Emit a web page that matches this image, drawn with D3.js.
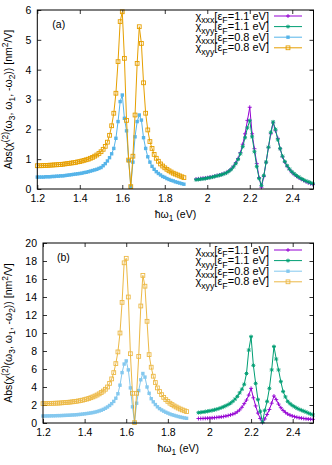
<!DOCTYPE html>
<html>
<head>
<meta charset="utf-8">
<script src="https://cdn.jsdelivr.net/npm/d3@7"></script>
<style>
body{margin:0;background:#fff;}
text{font-family:"Liberation Sans",Arial,sans-serif;fill:#000;}
</style>
</head>
<body>
<svg id="chart" width="332" height="465"></svg>
<script>
// photon energies (eV) of the two sweeps
var x08 = [1.20,1.21,1.22,1.23,1.24,1.25,1.26,1.27,1.28,1.29,
	1.30,1.31,1.32,1.33,1.34,1.35,1.36,1.37,1.38,1.39,
	1.40,1.41,1.42,1.43,1.44,1.45,1.46,1.47,1.48,1.49,
	1.50,1.51,1.52,1.53,1.54,1.55,1.56,1.57,1.58,1.59,
	1.60,1.61,1.62,1.63,1.64,1.65,1.66,1.67,1.68,1.69,
	1.70,1.71,1.72,1.73,1.74,1.75,1.76,1.77,1.78,1.79,
	1.80,1.81,1.82,1.83,1.84,1.85,1.86,1.87,1.88,1.89];
var x11 = [1.947,1.958,1.969,1.980,1.991,2.002,2.013,2.024,2.035,2.046,
	2.057,2.068,2.079,2.090,2.101,2.112,2.123,2.134,2.145,2.156,
	2.167,2.178,2.189,2.200,2.211,2.222,2.233,2.244,2.255,2.266,
	2.277,2.288,2.299,2.310,2.321,2.332,2.343,2.354,2.365,2.376,
	2.387,2.398,2.409,2.420,2.431,2.442,2.453,2.464,2.475,2.486,2.497];

// panel (a)
var aXxx11 = [0.33,0.34,0.35,0.36,0.37,0.38,0.40,0.41,0.43,0.45,
	0.47,0.49,0.52,0.55,0.60,0.67,0.76,0.88,1.02,1.22,
	1.50,1.85,2.30,2.74,1.85,1.35,0.85,0.38,0.06,0.42,
	0.90,1.40,1.85,2.22,1.95,1.70,1.35,1.08,0.90,0.76,
	0.65,0.56,0.49,0.43,0.38,0.33,0.29,0.25,0.21,0.18,0.15];
var aXyy11 = [0.31,0.32,0.33,0.34,0.35,0.37,0.38,0.40,0.42,0.44,
	0.46,0.48,0.51,0.54,0.59,0.65,0.74,0.85,0.99,1.18,
	1.42,1.72,2.05,2.29,1.75,1.25,0.75,0.35,0.12,0.45,
	0.90,1.40,1.90,2.25,2.00,1.65,1.35,1.10,0.92,0.78,
	0.67,0.58,0.51,0.45,0.40,0.35,0.31,0.27,0.24,0.21,0.18];
var aXxx08 = [0.40,0.40,0.40,0.40,0.41,0.41,0.41,0.42,0.42,0.43,
	0.43,0.44,0.44,0.45,0.46,0.47,0.48,0.49,0.50,0.51,
	0.52,0.53,0.55,0.56,0.58,0.60,0.62,0.64,0.66,0.69,
	0.72,0.78,0.85,0.94,1.05,1.18,1.36,1.70,2.26,2.93,
	3.15,2.37,1.95,0.95,0.08,0.90,1.75,2.26,2.48,2.31,
	1.72,1.36,1.08,0.90,0.76,0.66,0.58,0.52,0.47,0.42,
	0.39,0.35,0.32,0.29,0.27,0.24,0.22,0.20,0.18,0.16];
var aXyy08 = [0.78,0.78,0.78,0.79,0.79,0.79,0.80,0.80,0.81,0.81,
	0.82,0.82,0.83,0.84,0.85,0.86,0.87,0.88,0.89,0.91,
	0.92,0.94,0.96,0.98,1.00,1.03,1.06,1.10,1.14,1.19,
	1.25,1.33,1.43,1.57,1.80,2.12,2.54,3.21,4.27,5.61,
	5.94,4.38,2.30,0.97,0.08,1.10,2.48,4.21,5.44,4.88,
	3.56,2.54,1.98,1.59,1.36,1.16,1.03,0.93,0.84,0.77,
	0.71,0.66,0.61,0.57,0.53,0.50,0.47,0.44,0.41,0.38];

// panel (b)
var bXxx11 = [0.50,0.50,0.51,0.52,0.53,0.55,0.57,0.59,0.62,0.65,
	0.68,0.72,0.77,0.83,0.90,0.98,1.08,1.25,1.45,1.75,
	2.15,2.55,3.10,3.85,2.80,1.90,1.10,0.50,0.05,0.45,
	0.95,1.50,2.20,3.00,2.60,2.10,1.70,1.40,1.18,1.00,
	0.88,0.78,0.70,0.64,0.58,0.54,0.50,0.47,0.44,0.42,0.40];
var bXyy11 = [1.15,1.18,1.22,1.26,1.30,1.35,1.40,1.46,1.53,1.61,
	1.70,1.80,1.92,2.05,2.20,2.40,2.65,2.95,3.35,3.75,
	4.30,5.50,8.10,9.60,6.40,4.40,2.60,1.30,0.10,1.40,
	2.40,3.85,5.90,8.50,7.10,5.90,4.60,3.50,2.90,2.40,
	2.15,1.95,1.80,1.65,1.52,1.42,1.32,1.22,1.10,1.00,0.90];
var bXxx08 = [0.78,0.78,0.79,0.79,0.80,0.80,0.81,0.82,0.82,0.83,
	0.84,0.85,0.86,0.87,0.89,0.90,0.92,0.94,0.96,0.99,
	1.02,1.05,1.08,1.12,1.16,1.21,1.27,1.34,1.42,1.52,
	1.64,1.78,1.95,2.15,2.40,2.75,3.25,4.20,5.60,6.55,
	6.90,5.90,3.90,1.80,0.05,2.20,3.60,4.80,5.50,5.10,
	4.00,3.30,2.70,2.35,2.05,1.80,1.60,1.45,1.32,1.20,
	1.10,1.00,0.92,0.85,0.78,0.72,0.66,0.61,0.56,0.52];
var bXyy08 = [2.15,2.15,2.16,2.17,2.18,2.19,2.20,2.21,2.22,2.24,
	2.26,2.28,2.30,2.32,2.35,2.38,2.41,2.45,2.49,2.54,
	2.60,2.66,2.73,2.81,2.90,3.00,3.11,3.24,3.39,3.55,
	3.75,4.00,4.40,4.90,5.60,6.60,7.90,10.0,13.4,17.8,
	18.3,14.0,7.70,3.30,0.05,3.30,7.40,13.0,16.4,15.2,
	11.3,7.60,6.20,5.20,4.50,3.90,3.50,3.15,2.85,2.60,
	2.40,2.20,2.05,1.90,1.78,1.66,1.55,1.45,1.36,1.27];

var xTicks = [1.2,1.4,1.6,1.8,2.0,2.2,2.4];
var xTickLabels = ["1.2","1.4","1.6","1.8","2","2.2","2.4"];
var yTicksA = [0,1,2,3,4,5,6];
var yTicksB = [0,2,4,6,8,10,12,14,16,18,20];
var seriesNames = [
	[["χ",0],["xxx",-1],["[ε",0],["F",-1],["=1.1 eV]",0]],
	[["χ",0],["xyy",-1],["[ε",0],["F",-1],["=1.1 eV]",0]],
	[["χ",0],["xxx",-1],["[ε",0],["F",-1],["=0.8 eV]",0]],
	[["χ",0],["xyy",-1],["[ε",0],["F",-1],["=0.8 eV]",0]]
];
var colors = ["#9400d3","#009e73","#56b4e9","#e69f00"];
var markers = ["plus","star","fsquare","osquare"];

var svg = d3.select("#chart");
svg.append("rect").attr("width",332).attr("height",465).attr("fill","#fff");

function richText(sel, parts, size){
	// parts: [text, shift] with shift -1 sub, 1 super, 0 normal
	var prev = 0;
	parts.forEach(function(p){
		var off = p[1]==-1 ? size*0.3 : (p[1]==1 ? -size*0.4 : 0);
		sel.append("tspan")
			.attr("dy", off-prev)
			.attr("font-size", p[1]==0 ? size : size*0.8)
			.text(p[0]);
		prev = off;
	});
}

function drawMarker(g, type, x, y, color){
	var s = 2;
	if(type=="plus"){
		g.append("path").attr("d","M"+(x-s)+","+y+"h"+(2*s)+"M"+x+","+(y-s)+"v"+(2*s))
			.attr("stroke",color).attr("stroke-width",0.9).attr("fill","none");
	}
	else if(type=="star"){
		var d = s*0.75;
		g.append("path").attr("d","M"+(x-s)+","+y+"h"+(2*s)+"M"+x+","+(y-s)+"v"+(2*s)+
			"M"+(x-d)+","+(y-d)+"L"+(x+d)+","+(y+d)+"M"+(x-d)+","+(y+d)+"L"+(x+d)+","+(y-d))
			.attr("stroke",color).attr("stroke-width",0.9).attr("fill","none");
	}
	else if(type=="fsquare"){
		g.append("rect").attr("x",x-1.7).attr("y",y-1.7).attr("width",3.4).attr("height",3.4)
			.attr("fill",color);
	}
	else{
		g.append("rect").attr("x",x-1.9).attr("y",y-1.9).attr("width",3.8).attr("height",3.8)
			.attr("fill","none").attr("stroke",color).attr("stroke-width",0.9);
	}
}

function drawPanel(p){
	var x = d3.scaleLinear().domain([1.2,2.5]).range([p.left,p.right]);
	var y = d3.scaleLinear().domain([0,p.yMax]).range([p.bottom,p.top]);
	var g = svg.append("g");

	// axes, ticks pointing inward on all four sides
	g.append("g").attr("transform","translate(0,"+p.bottom+")")
		.call(d3.axisBottom(x).tickValues(xTicks).tickSizeInner(-4).tickSizeOuter(0).tickPadding(6)
			.tickFormat(function(d,i){ return xTickLabels[i]; }));
	g.append("g").attr("transform","translate(0,"+p.top+")")
		.call(d3.axisTop(x).tickValues(xTicks).tickSizeInner(-4).tickSizeOuter(0).tickFormat(""));
	g.append("g").attr("transform","translate("+p.left+",0)")
		.call(d3.axisLeft(y).tickValues(p.yTicks).tickSizeInner(-4).tickSizeOuter(0).tickPadding(6)
			.tickFormat(d3.format("d")));
	g.append("g").attr("transform","translate("+p.right+",0)")
		.call(d3.axisRight(y).tickValues(p.yTicks).tickSizeInner(-4).tickSizeOuter(0).tickFormat(""));
	g.selectAll(".domain").remove();
	g.selectAll(".tick line").attr("stroke","#000").attr("stroke-width",0.8);
	g.selectAll(".tick text").attr("font-size",10.5).attr("font-family","Liberation Sans, Arial, sans-serif").attr("fill","#000");

	var data = [
		{xs:x11, ys:p.s[0]},
		{xs:x11, ys:p.s[1]},
		{xs:x08, ys:p.s[2]},
		{xs:x08, ys:p.s[3]}
	];
	var line = d3.line().x(function(d){ return x(d[0]); }).y(function(d){ return y(d[1]); });
	data.forEach(function(s,i){
		var pts = s.xs.map(function(v,j){ return [v, s.ys[j]]; });
		var sg = g.append("g").attr("opacity", i>=2 ? p.fade : 1);
		sg.append("path").datum(pts).attr("d",line)
			.attr("fill","none").attr("stroke",colors[i]).attr("stroke-width",1);
		pts.forEach(function(q){ drawMarker(sg, markers[i], x(q[0]), y(q[1]), colors[i]); });
	});

	// frame
	g.append("rect").attr("x",p.left).attr("y",p.top)
		.attr("width",p.right-p.left).attr("height",p.bottom-p.top)
		.attr("fill","none").attr("stroke","#000").attr("stroke-width",1);

	// legend
	for(var i=0;i<4;i++){
		var ly = p.top + p.legTop + i*10.6;
		var t = g.append("text").attr("x",269).attr("y",ly+3.6).attr("text-anchor","end").attr("font-size",11);
		richText(t, seriesNames[i], 11);
		var lg = g.append("g").attr("opacity", i>=2 ? p.fade : 1);
		lg.append("line").attr("x1",274).attr("x2",302).attr("y1",ly).attr("y2",ly)
			.attr("stroke",colors[i]).attr("stroke-width",1);
		drawMarker(lg, markers[i], 288, ly, colors[i]);
	}

	g.append("text").attr("x",p.left+p.tagDx).attr("y",p.top+18).attr("font-size",10.5).text(p.tag);

	var xt = g.append("text").attr("x",(p.left+p.right)/2).attr("y",p.bottom+29)
		.attr("text-anchor","middle").attr("font-size",10.5);
	richText(xt, [["ħω",0],["1",-1],[" (eV)",0]], 10.5);

	var yt = g.append("text").attr("transform","translate(12,"+((p.top+p.bottom)/2)+") rotate(-90)")
		.attr("text-anchor","middle").attr("font-size",10.5);
	richText(yt, [["Abs(χ",0],["(2)",1],["(ω",0],["3",-1],[", ω",0],["1",-1],[", -ω",0],["2",-1],[")) [nm",0],["2",1],["/V]",0]], 10.5);
}

drawPanel({left:37.3, right:313.5, top:10, bottom:189, yMax:6, yTicks:yTicksA,
	s:[aXxx11,aXyy11,aXxx08,aXyy08], fade:1, legTop:6, tag:"(a)", tagDx:15});
drawPanel({left:43, right:313.5, top:243, bottom:423, yMax:20, yTicks:yTicksB,
	s:[bXxx11,bXyy11,bXxx08,bXyy08], fade:0.72, legTop:7, tag:"(b)", tagDx:14});
</script>
</body>
</html>
